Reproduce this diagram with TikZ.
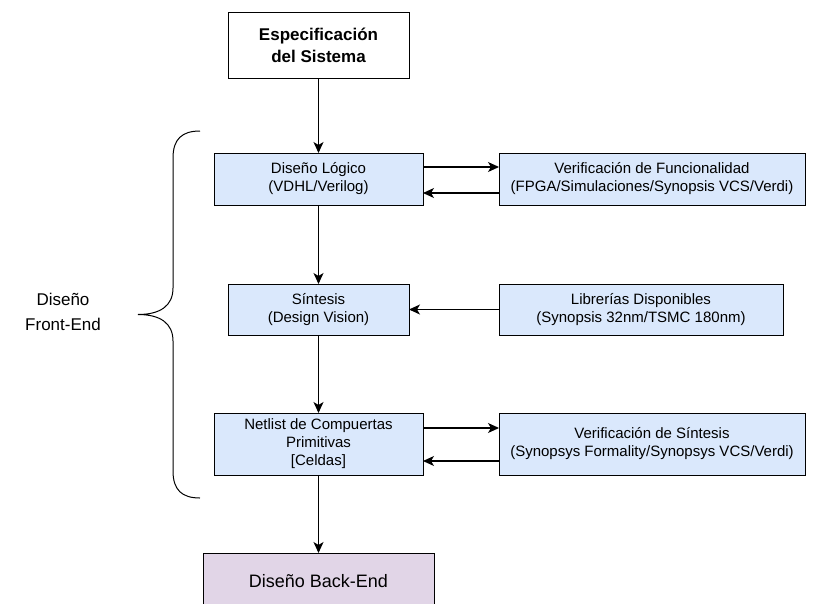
\documentclass[tikz,border=0pt]{standalone}
\usepackage{fontspec}
\setmainfont{Liberation Sans}
\usetikzlibrary{arrows.meta}
\definecolor{boxblue}{HTML}{DAE8FC}
\definecolor{boxpurple}{HTML}{E1D5E7}
\begin{document}
\begin{tikzpicture}[x=1pt,y=-1pt,
  every node/.style={inner sep=0pt, outer sep=0pt},
  txt/.style={align=center, font=\fontsize{15}{18}\selectfont},
  blk/.style={draw=black, line width=1pt, fill=boxblue, txt},
  flow/.style={line width=1.1pt, -{Stealth[length=11pt, width=10pt, inset=3pt]}}
]
\useasboundingbox (0,0) rectangle (825,603);
\clip (0,0) rectangle (825,603);
\fill[white] (0,0) rectangle (825,603);

% main column
\node[draw=black, line width=1pt, fill=white, minimum width=181pt, minimum height=66pt,
      align=center, font=\bfseries\fontsize{17}{22}\selectfont] (spec) at (318.5,45) {Especificación\\del Sistema};
\node[blk, minimum width=209pt, minimum height=52pt] (dl) at (318.5,179) {Diseño Lógico\\(VDHL/Verilog)};
\node[blk, minimum width=181pt, minimum height=51pt] (sin) at (318.5,309.5) {Síntesis\\(Design Vision)};
\node[blk, minimum width=209pt, minimum height=62pt] (net) at (318.5,444) {Netlist de Compuertas\\Primitivas\\{[Celdas]}};
\node[draw=black, line width=1pt, fill=boxpurple, minimum width=231pt, minimum height=56pt,
      font=\fontsize{18}{22}\selectfont] (be) at (318.5,581) {Diseño Back-End};

% side boxes
\node[blk, minimum width=306pt, minimum height=52pt] (vf) at (652,179) {Verificación de Funcionalidad\\(FPGA/Simulaciones/Synopsis VCS/Verdi)};
\node[blk, minimum width=284pt, minimum height=51pt] (lib) at (641,309.5) {Librerías Disponibles\\(Synopsis 32nm/TSMC 180nm)};
\node[blk, minimum width=306pt, minimum height=62pt] (vs) at (652,444) {Verificación de Síntesis\\(Synopsys Formality/Synopsys VCS/Verdi)};

% vertical flow
\draw[flow] (spec) -- (dl);
\draw[flow] (dl) -- (sin);
\draw[flow] (sin) -- (net);
\draw[flow] (net) -- (be);

% side connections
\draw[flow] ([yshift=12pt]dl.east) -- ([yshift=12pt]vf.west);
\draw[flow] ([yshift=-14pt]vf.west) -- ([yshift=-14pt]dl.east);
\draw[flow] (lib.west) -- (sin.east);
\draw[flow] ([yshift=16pt]net.east) -- ([yshift=16pt]vs.west);
\draw[flow] ([yshift=-17pt]vs.west) -- ([yshift=-17pt]net.east);

% front-end brace
\draw[line width=1pt]
  (200,131) .. controls (182,131) and (173,139) .. (173,158)
  -- (173,288) .. controls (173,306) and (160,314.5) .. (138,314.5)
  .. controls (160,314.5) and (173,323) .. (173,341)
  -- (173,471) .. controls (173,490) and (182,498) .. (200,498);
\node[align=center, font=\fontsize{17}{25}\selectfont] (fe) at (63,312) {Diseño\\Front-End};
\end{tikzpicture}
\end{document}
